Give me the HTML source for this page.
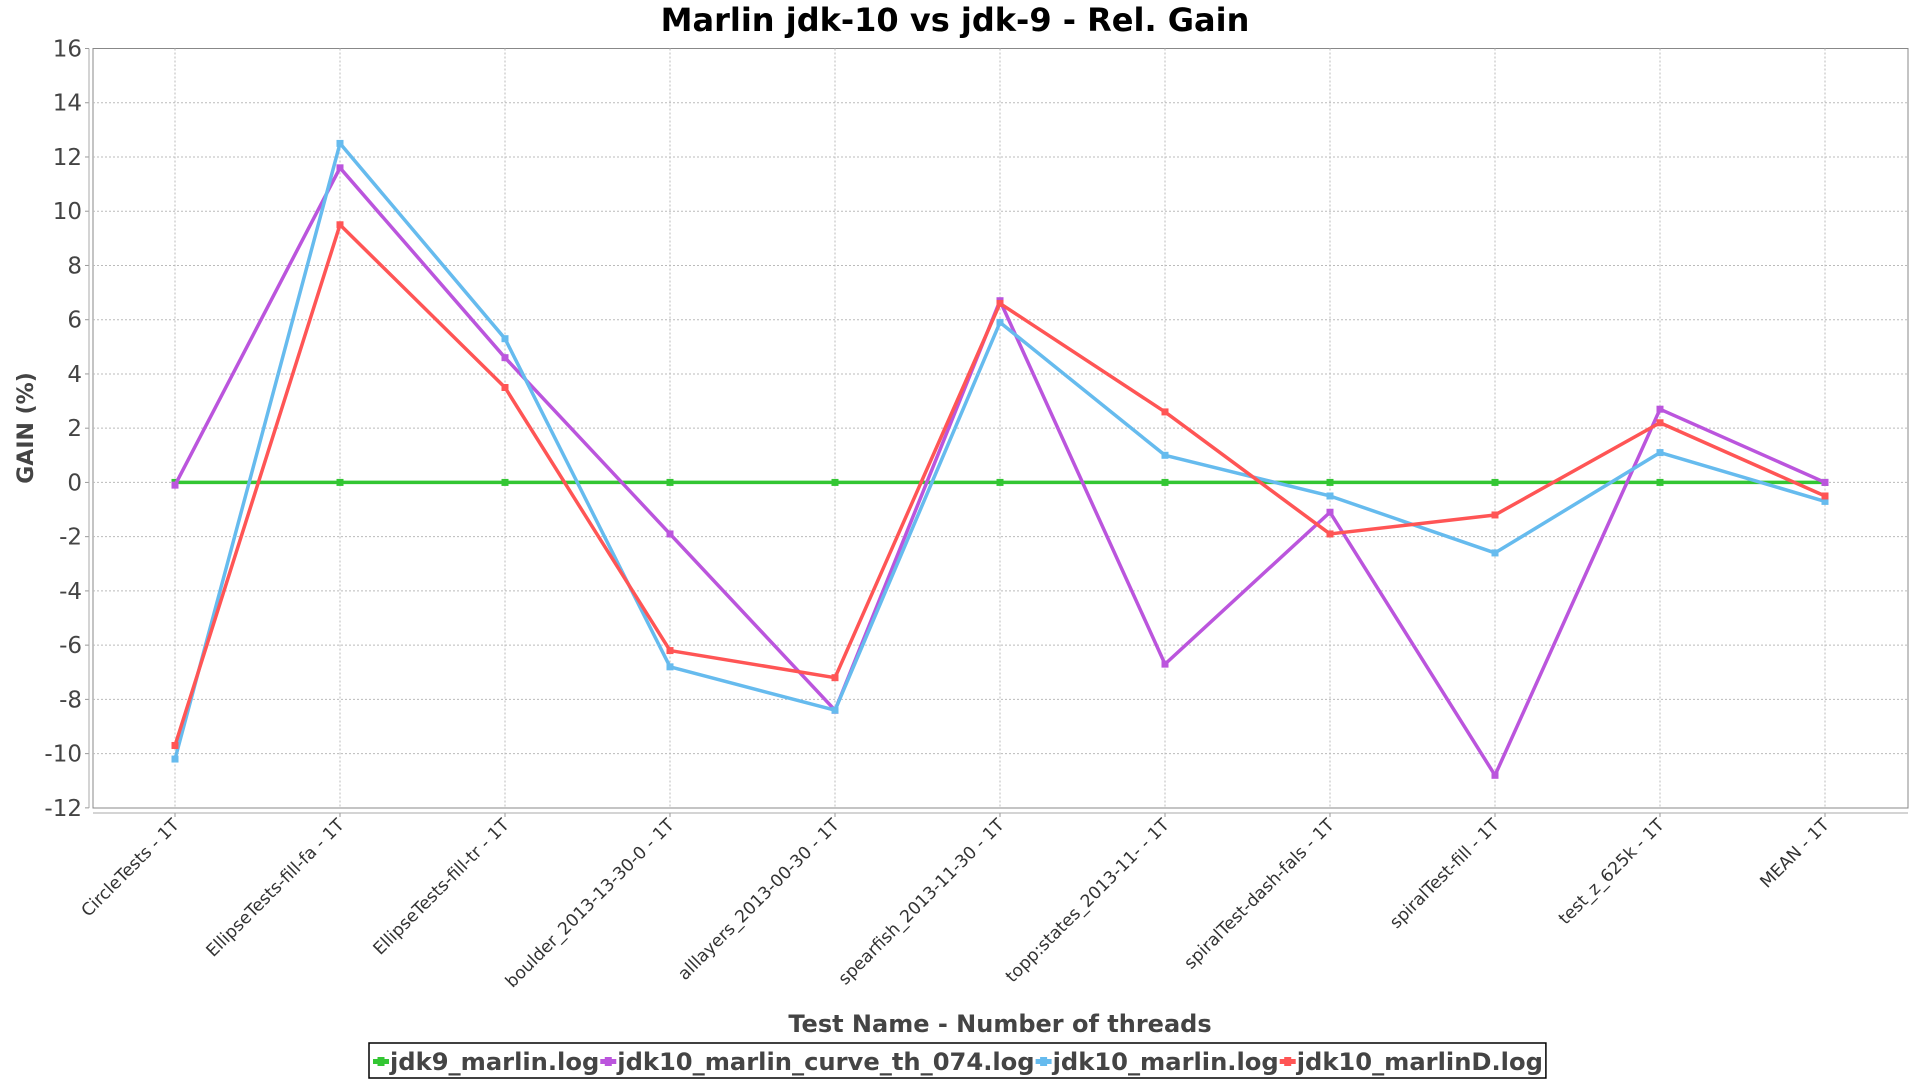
<!DOCTYPE html>
<html><head><meta charset="utf-8"><style>
body{margin:0;background:#fff;}
svg{display:block;font-family:"DejaVu Sans","Liberation Sans",sans-serif;}
</style></head><body>
<svg id="chart" width="1920" height="1080">
<text x="955" y="31" text-anchor="middle" font-size="32" font-weight="bold" fill="#000">Marlin jdk-10 vs jdk-9 - Rel. Gain</text>
<rect x="93" y="48.5" width="1815" height="759.5" fill="#fff" stroke="#888" stroke-width="1"/>
<g id="grid"></g>
<g id="axes"></g>
<g id="series"></g>
<text transform="translate(33,428) rotate(-90)" text-anchor="middle" font-size="22" font-weight="bold" fill="#444">GAIN (%)</text>
<text x="1000" y="1032" text-anchor="middle" font-size="24" font-weight="bold" fill="#444">Test Name - Number of threads</text>
<g id="legend">
<rect x="369" y="1043" width="1180" height="35" fill="#fff" stroke="#000" stroke-width="1.5"/>
</g>
</svg>
<script>
const categories=["CircleTests - 1T","EllipseTests-fill-fa - 1T","EllipseTests-fill-tr - 1T","boulder_2013-13-30-0 - 1T","alllayers_2013-00-30 - 1T","spearfish_2013-11-30 - 1T","topp:states_2013-11- - 1T","spiralTest-dash-fals - 1T","spiralTest-fill - 1T","test_z_625k - 1T","MEAN - 1T"];
const yTicks=[-12,-10,-8,-6,-4,-2,0,2,4,6,8,10,12,14,16];
const seriesNames=["jdk9_marlin.log","jdk10_marlin_curve_th_074.log","jdk10_marlin.log","jdk10_marlinD.log"];
const seriesColors=["#33c633","#bb55dd","#66bbee","#ff5555"];
const jdk9=[0,0,0,0,0,0,0,0,0,0,0];
const jdk10Curve=[-0.1,11.6,4.6,-1.9,-8.4,6.7,-6.7,-1.1,-10.8,2.7,0.0];
const jdk10=[-10.2,12.5,5.3,-6.8,-8.4,5.9,1.0,-0.5,-2.6,1.1,-0.7];
const jdk10D=[-9.7,9.5,3.5,-6.2,-7.2,6.6,2.6,-1.9,-1.2,2.2,-0.5];
const allSeries=[jdk9,jdk10Curve,jdk10,jdk10D];
const NS="http://www.w3.org/2000/svg";
const X0=175,DX=165,YTOP=48.5,YMAX=16,PPU=27.12;
function xs(i){return X0+i*DX;}
function ys(v){return YTOP+(YMAX-v)*PPU;}
function mk(t,a,p){const e=document.createElementNS(NS,t);for(const k in a)e.setAttribute(k,a[k]);p.appendChild(e);return e;}
const grid=document.getElementById('grid'),axes=document.getElementById('axes'),ser=document.getElementById('series'),leg=document.getElementById('legend');
yTicks.forEach(v=>{
 const y=ys(v);
 if(v!==16&&v!==-12){const l=mk('line',{x1:93,x2:1908,y1:y,y2:y,stroke:'#bbb','stroke-dasharray':'2,2'},grid);
 
 }
 mk('line',{x1:85,x2:89,y1:y,y2:y,stroke:'#999'},axes);
 const t=mk('text',{x:82,y:y+8,'text-anchor':'end','font-size':23,fill:'#444'},axes);t.textContent=v;
 
 
});
mk('line',{x1:89,x2:89,y1:48.5,y2:808,stroke:'#aaa'},axes);
mk('line',{x1:93,x2:1908,y1:813,y2:813,stroke:'#aaa'},axes);
categories.forEach((c,i)=>{
 const x=xs(i);
 const g=mk('line',{x1:x,x2:x,y1:48.5,y2:808,stroke:'#bbb','stroke-dasharray':'2,2'},grid);
 
 
 mk('line',{x1:x,x2:x,y1:813,y2:817,stroke:'#999'},axes);
 const t=mk('text',{transform:`translate(${x+5},${826}) rotate(-45)`,'text-anchor':'end','font-size':17.2,fill:'#333'},axes);t.textContent=c;
 
 
});
allSeries.forEach((arr,s)=>{
 const pts=arr.map((v,i)=>xs(i)+','+ys(v)).join(' ');
 const pl=mk('polyline',{points:pts,fill:'none',stroke:seriesColors[s],'stroke-width':3.5,'stroke-linejoin':'round'},ser);
 
 
 arr.forEach((v,i)=>{
  const r=mk('rect',{x:xs(i)-3.5,y:ys(v)-3.5,width:7,height:7,fill:seriesColors[s]},ser);
  
  
 });
});
let lx=373;
seriesNames.forEach((n,s)=>{
 const m=mk('rect',{x:lx,y:1059,width:16,height:5,fill:seriesColors[s]},leg);
 mk('rect',{x:lx+4.5,y:1057,width:7,height:9,fill:seriesColors[s]},leg);
 
 
 const t=mk('text',{x:lx+17,y:1070,'font-size':24.2,'font-weight':'bold',fill:'#444'},leg);t.textContent=n;
 
 
 lx+=17+t.getComputedTextLength()+1;
});
document.querySelector('#legend rect').setAttribute('width',lx-369+2);
</script>
</body></html>
